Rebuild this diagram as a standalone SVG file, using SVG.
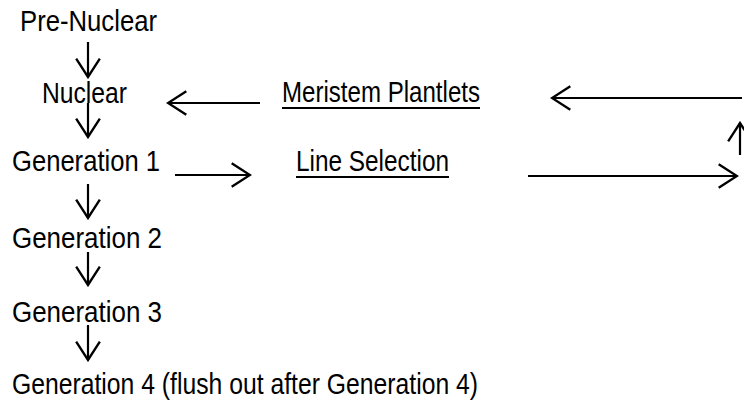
<svg xmlns="http://www.w3.org/2000/svg" width="744" height="400" viewBox="0 0 744 400">
<defs>
<style>
text{font-family:"Liberation Sans",Arial,sans-serif;font-size:29px;fill:#000}
.c line{stroke:#000;stroke-width:2.2;fill:none}
.u{stroke:#000;stroke-width:2.2}
</style>
<marker id="ah" markerUnits="userSpaceOnUse" markerWidth="24" markerHeight="28" viewBox="-20 -13 22 26" refX="0" refY="0" orient="auto">
<path d="M-17,-11 L0,0 L-17,11" fill="none" stroke="#000" stroke-width="2.2"/>
</marker>
</defs>
<rect width="744" height="400" fill="#fff"/>
<g id="pre-nuclear"><text x="20" y="31" textLength="137" lengthAdjust="spacingAndGlyphs">Pre-Nuclear</text></g>
<g id="nuclear"><text x="42" y="103" textLength="85" lengthAdjust="spacingAndGlyphs">Nuclear</text></g>
<g id="meristem"><text x="282" y="102" textLength="198" lengthAdjust="spacingAndGlyphs">Meristem Plantlets</text><line class="u" x1="282" y1="108" x2="480" y2="108"/></g>
<g id="gen1"><text x="12" y="171" textLength="148" lengthAdjust="spacingAndGlyphs">Generation 1</text></g>
<g id="line-selection"><text x="296" y="171" textLength="153" lengthAdjust="spacingAndGlyphs">Line Selection</text><line class="u" x1="296" y1="177" x2="449" y2="177"/></g>
<g id="gen2"><text x="12" y="248" textLength="150" lengthAdjust="spacingAndGlyphs">Generation 2</text></g>
<g id="gen3"><text x="12" y="322" textLength="150" lengthAdjust="spacingAndGlyphs">Generation 3</text></g>
<g id="gen4"><text x="12" y="394" textLength="466" lengthAdjust="spacingAndGlyphs">Generation 4 (flush out after Generation 4)</text></g>
<g class="c" id="connectors">
<line x1="88" y1="42" x2="88" y2="77" marker-end="url(#ah)"/>
<line x1="88" y1="103" x2="88" y2="137" marker-end="url(#ah)"/>
<line x1="88" y1="184" x2="88" y2="218" marker-end="url(#ah)"/>
<line x1="88" y1="252" x2="88" y2="285" marker-end="url(#ah)"/>
<line x1="88" y1="325" x2="88" y2="360" marker-end="url(#ah)"/>
<line x1="260" y1="103" x2="168" y2="103" marker-end="url(#ah)"/>
<line x1="175" y1="175" x2="250" y2="175" marker-end="url(#ah)"/>
<line x1="742" y1="98" x2="552" y2="98" marker-end="url(#ah)"/>
<line x1="740" y1="155" x2="740" y2="123" marker-end="url(#ah)"/>
<line x1="528" y1="176" x2="737" y2="176" marker-end="url(#ah)"/>
</g>
</svg>
